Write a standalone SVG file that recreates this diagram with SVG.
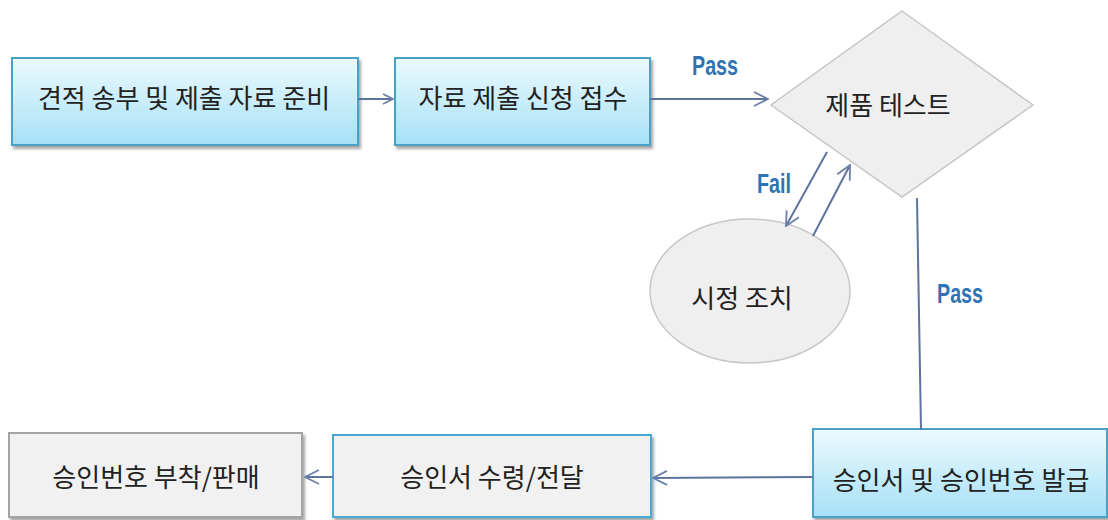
<svg xmlns="http://www.w3.org/2000/svg" width="1108" height="520" viewBox="0 0 1108 520">
  <defs>
    <linearGradient id="blueFill" x1="0" y1="0" x2="0" y2="1">
      <stop offset="0" stop-color="#ecfafe"/>
      <stop offset="1" stop-color="#a6e0f6"/>
    </linearGradient>
    <filter id="shadow" x="-10%" y="-10%" width="125%" height="130%">
      <feDropShadow dx="2" dy="3" stdDeviation="1.5" flood-color="#000" flood-opacity="0.35"/>
    </filter>
    <marker id="arrow" viewBox="0 0 12 12" refX="11" refY="6" markerWidth="12" markerHeight="12" markerUnits="userSpaceOnUse" orient="auto">
      <path d="M1,1 L11,6 L1,11" fill="none" stroke="#6b7fa8" stroke-width="1.6"/>
    </marker>
    <marker id="arrowBig" viewBox="0 0 16 16" refX="15" refY="8" markerWidth="16" markerHeight="16" markerUnits="userSpaceOnUse" orient="auto">
      <path d="M1,1 L15,8 L1,15" fill="none" stroke="#6b7fa8" stroke-width="1.8"/>
    </marker>
  </defs>
  <style>
    .lbl { font-family: "Noto Sans CJK KR", "Noto Sans", sans-serif; font-size: 26px; fill: #222; text-anchor: middle; }
    .blue { fill: url(#blueFill); stroke: #4aa2c6; stroke-width: 2; filter: url(#shadow); }
    .gray { fill: #f1f1f1; stroke: #a4a4a4; stroke-width: 2; filter: url(#shadow); }
    .grayblue { fill: #f1f1f1; stroke: #4aa8d0; stroke-width: 2; filter: url(#shadow); }
    .shape { fill: #efefef; stroke: #c6c6c6; stroke-width: 1.5; }
    .conn { fill: none; stroke: #5e73a0; stroke-width: 2; }
    .tag { font-family: "Liberation Sans", Arial, sans-serif; font-weight: bold; font-size: 28px; fill: #2f73b3; }
  </style>

  <rect width="1108" height="520" fill="#ffffff"/>

  <g id="node-estimate">
    <rect class="blue" x="12" y="58" width="346" height="87"/>
    <text class="lbl" x="184" y="108">견적 송부 및 제출 자료 준비</text>
  </g>

  <g id="node-receive">
    <rect class="blue" x="395" y="58" width="255" height="87"/>
    <text class="lbl" x="523" y="108">자료 제출 신청 접수</text>
  </g>

  <g id="node-test">
    <polygon class="shape" points="902,11 1033,105 902,197 771,105"/>
    <text class="lbl" x="888" y="115">제품 테스트</text>
  </g>

  <g id="node-fix">
    <ellipse class="shape" cx="750" cy="291" rx="100" ry="72"/>
    <text class="lbl" x="742" y="308">시정 조치</text>
  </g>

  <g id="node-issue">
    <rect class="blue" x="813" y="429" width="294" height="88"/>
    <text class="lbl" x="961" y="490">승인서 및 승인번호 발급</text>
  </g>

  <g id="node-deliver">
    <rect class="grayblue" x="333" y="435" width="318" height="82"/>
    <text class="lbl" x="492" y="487">승인서 수령/전달</text>
  </g>

  <g id="node-sell">
    <rect class="gray" x="9" y="433" width="293" height="84"/>
    <text class="lbl" x="156" y="487">승인번호 부착/판매</text>
  </g>

  <g id="connectors">
    <line class="conn" x1="358" y1="99" x2="393" y2="99" marker-end="url(#arrow)"/>
    <line class="conn" x1="650" y1="99" x2="768" y2="99" marker-end="url(#arrowBig)"/>
    <line class="conn" x1="827" y1="152" x2="786" y2="226" marker-end="url(#arrowBig)"/>
    <line class="conn" x1="813" y1="236" x2="850" y2="165" marker-end="url(#arrowBig)"/>
    <line class="conn" x1="917" y1="198" x2="921" y2="430" stroke="#3d4b6e"/>
    <line class="conn" x1="813" y1="477" x2="653" y2="478" marker-end="url(#arrowBig)"/>
    <line class="conn" x1="333" y1="477" x2="305" y2="477" marker-end="url(#arrowBig)"/>
    <text class="tag" x="692" y="75" textLength="46" lengthAdjust="spacingAndGlyphs">Pass</text>
    <text class="tag" x="757" y="193" textLength="34" lengthAdjust="spacingAndGlyphs">Fail</text>
    <text class="tag" x="937" y="303" textLength="46" lengthAdjust="spacingAndGlyphs">Pass</text>
  </g>
</svg>
